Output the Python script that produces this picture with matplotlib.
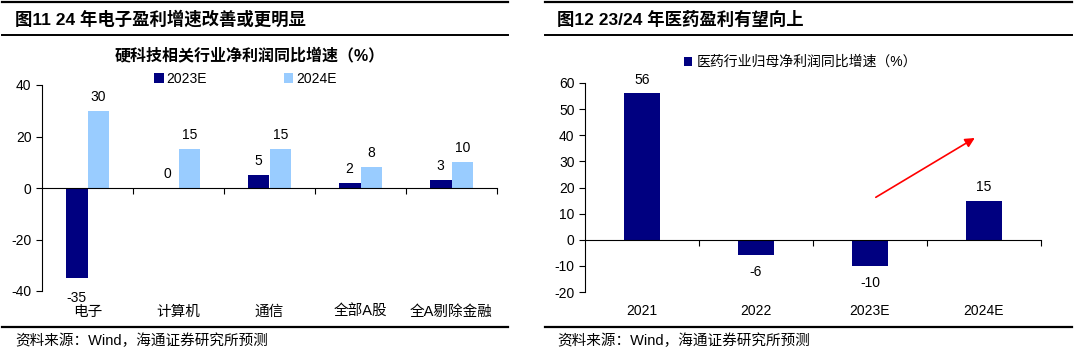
import numpy as np
import matplotlib.pyplot as plt
from matplotlib.lines import Line2D
from matplotlib.transforms import blended_transform_factory

plt.rcParams['font.family'] = ['Liberation Sans', 'Noto Sans CJK SC', 'DejaVu Sans']
plt.rcParams['axes.unicode_minus'] = False

# data
hw_cats = ['电子', '计算机', '通信', '全部A股', '全A剔除金融']
hw_2023 = [-35, 0, 5, 2, 3]
hw_2024 = [30, 15, 15, 8, 10]

med_years = ['2021', '2022', '2023E', '2024E']
med_growth = [56, -6, -10, 15]

navy = '#000080'
light = '#99CCFF'

fig = plt.figure(figsize=(10.8, 3.58), dpi=100)

# frame lines and titles
def hline(x0, x1, y, lw):
    fig.add_artist(Line2D([x0 / 1080, x1 / 1080], [1 - y / 358, 1 - y / 358],
                          color='black', lw=lw))

for x0, x1 in [(2, 508), (545, 1072)]:
    hline(x0, x1, 2, 1.6)
    hline(x0, x1, 35, 1.4)
    hline(x0, x1, 327, 1.6)

fig.text(15 / 1080, 1 - 19 / 358, '图11 24 年电子盈利增速改善或更明显', fontsize=12.5,
         fontweight='bold', va='center')
fig.text(557 / 1080, 1 - 19 / 358, '图12 23/24 年医药盈利有望向上', fontsize=12.5,
         fontweight='bold', va='center')
for x in (15, 557):
    fig.text(x / 1080, 1 - 341 / 358, '资料来源：Wind，海通证券研究所预测', fontsize=10.5,
             va='center')

# ---- left chart ----
ax = fig.add_axes([42 / 1080, 1 - 291 / 358, 455 / 1080, 206 / 358])
x = np.arange(len(hw_cats))
w = 0.24
ax.bar(x - w / 2, hw_2023, w, color=navy, label='2023E')
ax.bar(x + w / 2, hw_2024, w, color=light, label='2024E')
ax.set_xlim(-0.5, len(hw_cats) - 0.5)
ax.set_ylim(-40, 40)
ax.set_yticks([-40, -20, 0, 20, 40])
for s in ['top', 'right']:
    ax.spines[s].set_visible(False)
ax.spines['bottom'].set_position(('data', 0))
ax.set_xticks(np.arange(len(hw_cats)) + 0.5)
ax.set_xticklabels([])
ax.tick_params(axis='x', direction='out', length=4)
ax.tick_params(axis='y', direction='out', length=4, labelsize=10)
tr = blended_transform_factory(ax.transData, ax.transAxes)
for i, c in enumerate(hw_cats):
    ax.text(i, -0.1, c, transform=tr, ha='center', va='center', fontsize=10.5)
for i in range(len(hw_cats)):
    for xi, v in [(i - w / 2, hw_2023[i]), (i + w / 2, hw_2024[i])]:
        if v >= 0:
            ax.annotate(str(v), (xi, v), xytext=(0, 5), textcoords='offset points',
                        ha='center', va='bottom', fontsize=10)
        else:
            ax.annotate(str(v), (xi, v), xytext=(0, -9), textcoords='offset points',
                        ha='center', va='top', fontsize=10)
fig.text(250 / 1080, 1 - 55 / 358, '硬科技相关行业净利润同比增速（%）', fontsize=11.5,
         fontweight='bold', ha='center', va='center')
ax.legend(loc='center', bbox_to_anchor=(0.447, 1.03), ncol=2, frameon=False,
          fontsize=10, handlelength=0.7, handleheight=0.7, handletextpad=0.2,
          columnspacing=5.5)

# ---- right chart ----
ax2 = fig.add_axes([585 / 1080, 1 - 292 / 358, 456 / 1080, 209 / 358])
x2 = np.arange(len(med_years))
ax2.bar(x2, med_growth, 0.31, color=navy, label='医药行业归母净利润同比增速（%）')
ax2.set_xlim(-0.5, len(med_years) - 0.5)
ax2.set_ylim(-20, 60)
ax2.set_yticks(np.arange(-20, 61, 10))
for s in ['top', 'right']:
    ax2.spines[s].set_visible(False)
ax2.spines['bottom'].set_position(('data', 0))
ax2.set_xticks(np.arange(len(med_years)) + 0.5)
ax2.set_xticklabels([])
ax2.tick_params(axis='x', direction='out', length=4)
ax2.tick_params(axis='y', direction='out', length=4, labelsize=10)
tr2 = blended_transform_factory(ax2.transData, ax2.transAxes)
for i, c in enumerate(med_years):
    ax2.text(i, -0.09, c, transform=tr2, ha='center', va='center', fontsize=10)
for i, v in enumerate(med_growth):
    if v >= 0:
        ax2.annotate(str(v), (i, v), xytext=(0, 5), textcoords='offset points',
                     ha='center', va='bottom', fontsize=10)
    else:
        ax2.annotate(str(v), (i, v), xytext=(0, -7), textcoords='offset points',
                     ha='center', va='top', fontsize=10)
ax2.legend(loc='center left', bbox_to_anchor=(0.19, 1.1), frameon=False,
           fontsize=10, handlelength=0.6, handleheight=0.6, handletextpad=0.3)
ax2.annotate('', xy=(2.94, 39.5), xytext=(2.03, 15.7),
             arrowprops=dict(arrowstyle='-|>', color='red', lw=1.2,
                             mutation_scale=14))

fig.savefig('out.png', dpi=100)
